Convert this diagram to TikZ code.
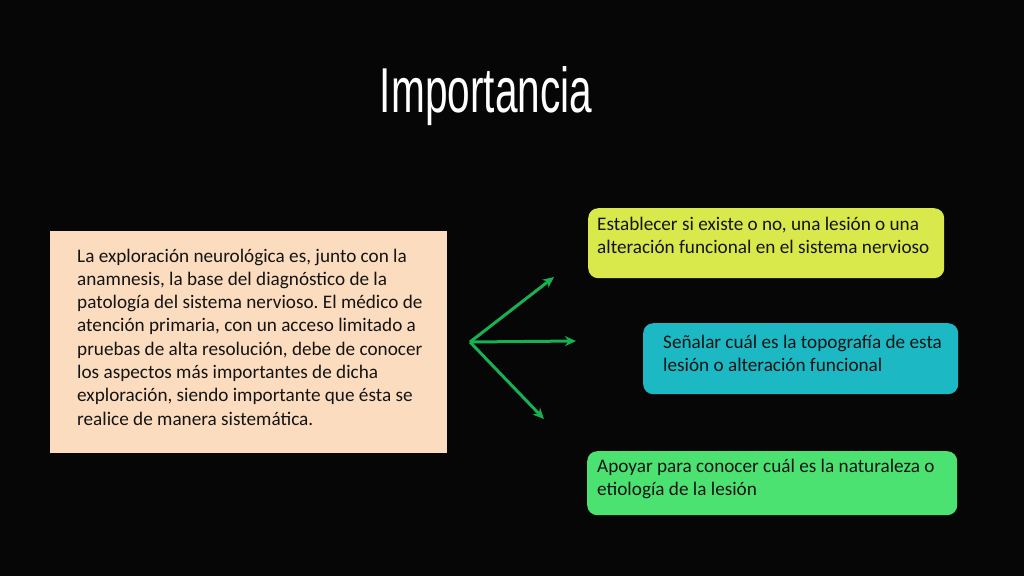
\documentclass[tikz,border=0pt]{standalone}
\usepackage{fontspec}
\setmainfont{Carlito}
\newfontfamily\titlefont{Liberation Sans}
\usetikzlibrary{arrows.meta}
\definecolor{bgc}{RGB}{6,6,6}
\definecolor{peach}{RGB}{252,220,190}
\definecolor{lime}{RGB}{217,232,74}
\definecolor{tealc}{RGB}{28,185,196}
\definecolor{greenc}{RGB}{76,226,114}
\definecolor{arrowc}{RGB}{24,176,80}
\definecolor{txt}{RGB}{20,20,20}
\tikzset{
  box/.style={draw=none, minimum width=#1, inner sep=0pt, anchor=north west},
  rbox/.style={box=#1, rounded corners=10pt},
  btext/.style={anchor=north west, inner sep=0pt, align=left, text=txt,
    font=\fontsize{19.2}{23.3}\selectfont\frenchspacing},
  garrow/.style={draw=arrowc, line width=3pt, -{Stealth[length=11pt,width=10pt]}}
}
\begin{document}
\begin{tikzpicture}[x=1pt,y=-1pt]
\fill[bgc] (0,0) rectangle (1024,576);
\useasboundingbox (0,0) rectangle (1024,576);
% title
\node[anchor=base, inner sep=0pt, text=white] (title) at (486,112)
  {\resizebox{212pt}{46pt}{\titlefont Importancia}};
% left box
\node[box=397pt, fill=peach, minimum height=222pt] (left) at (50,231) {};
\node[btext] (lefttext) at (77,248.5)
 {La exploración neurológica es, junto con la\\
  anamnesis, la base del diagnóstico de la\\
  patología del sistema nervioso. El médico de\\
  atención primaria, con un acceso limitado a\\
  pruebas de alta resolución, debe de conocer\\
  los aspectos más importantes de dicha\\
  exploración, siendo importante que ésta se\\
  realice de manera sistemática.};
% right boxes
\node[rbox=356pt, fill=lime, minimum height=70pt] (b1) at (588,208) {};
\node[btext] (t1) at (597,216.5)
 {Establecer si existe o no, una lesión o una\\
  alteración funcional en el sistema nervioso};
\node[rbox=315pt, fill=tealc, minimum height=71pt] (b2) at (643,323) {};
\node[btext] (t2) at (663,334.5)
 {Señalar cuál es la topografía de esta\\
  lesión o alteración funcional};
\node[rbox=370pt, fill=greenc, minimum height=64pt] (b3) at (587,451) {};
\node[btext] (t3) at (597,458.5)
 {Apoyar para conocer cuál es la naturaleza o\\
  etiología de la lesión};
% arrows
\coordinate (hub) at (470,342);
\coordinate (e1) at (554,277);
\coordinate (e2) at (576,341);
\coordinate (e3) at (544,419);
\draw[garrow] (hub) -- (e1);
\draw[garrow] (hub) -- (e2);
\draw[garrow] (hub) -- (e3);
\end{tikzpicture}
\end{document}
